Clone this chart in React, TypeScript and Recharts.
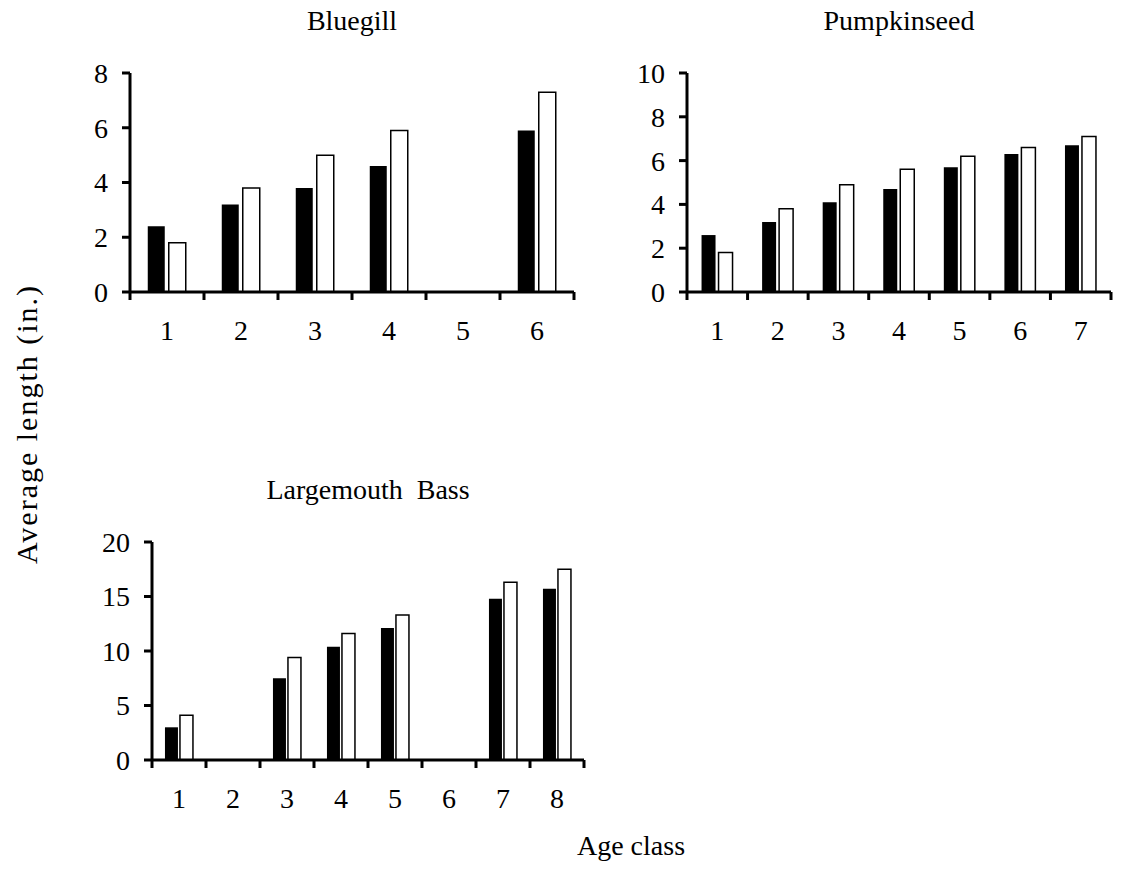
import React from "react";
import { Bar, BarChart, XAxis, YAxis } from "recharts";

const FONT = "'Liberation Serif', 'DejaVu Serif', 'Times New Roman', serif";
const FS = 28;

// Bluegill
const bluegillAges = ["1", "2", "3", "4", "5", "6"];
const bluegillA = [2.4, 3.2, 3.8, 4.6, null, 5.9];
const bluegillB = [1.8, 3.8, 5.0, 5.9, null, 7.3];
const bluegillTicks = [0, 2, 4, 6, 8];

// Pumpkinseed
const pumpkinAges = ["1", "2", "3", "4", "5", "6", "7"];
const pumpkinA = [2.6, 3.2, 4.1, 4.7, 5.7, 6.3, 6.7];
const pumpkinB = [1.8, 3.8, 4.9, 5.6, 6.2, 6.6, 7.1];
const pumpkinTicks = [0, 2, 4, 6, 8, 10];

// Largemouth Bass
const bassAges = ["1", "2", "3", "4", "5", "6", "7", "8"];
const bassA = [3.0, null, 7.5, 10.4, 12.1, null, 14.8, 15.7];
const bassB = [4.1, null, 9.4, 11.6, 13.3, null, 16.3, 17.5];
const bassTicks = [0, 5, 10, 15, 20];

const build = (ages: string[], a: (number | null)[], b: (number | null)[]) =>
  ages.map((age, i) => ({ age, a: a[i], b: b[i] }));

const YW = 60;
const TOP = 24;

// category ticks sit on the band edges, labels in the middle
const AgeTick = (props: any) => {
  const { x, y, index, band, count } = props;
  const left = x - band / 2;
  return (
    <g>
      <line x1={left} y1={y - 8} x2={left} y2={y} stroke="#000" strokeWidth={3} />
      {index === count - 1 && (
        <line x1={left + band} y1={y - 8} x2={left + band} y2={y} stroke="#000" strokeWidth={3} />
      )}
      <text x={x} y={y + 40} textAnchor="middle" style={{ fontFamily: FONT }} fontSize={FS} fill="#000">
        {props.payload.value}
      </text>
    </g>
  );
};

interface PanelProps {
  title: string;
  data: any[];
  ticks: number[];
  x0: number; // y axis position
  y0: number; // plot top
  w: number; // plot width
  h: number; // plot height
  gap: number;
}

const Panel = ({ title, data, ticks, x0, y0, w, h, gap }: PanelProps) => {
  const band = w / data.length;
  return (
    <>
      <div
        style={{
          position: "absolute",
          left: x0,
          width: w,
          top: y0 - 68,
          textAlign: "center",
          fontFamily: FONT,
          fontSize: FS,
          lineHeight: "32px",
          whiteSpace: "pre",
        }}
      >
        {title}
      </div>
      <div style={{ position: "absolute", left: x0 - YW, top: y0 - TOP }}>
        <BarChart
          width={YW + w + 10}
          height={TOP + h + 60}
          data={data}
          margin={{ top: TOP, right: 10, bottom: 0, left: 0 }}
          barCategoryGap="24%"
          barGap={gap}
          style={{ fontFamily: FONT }}
        >
          <XAxis
            dataKey="age"
            height={60}
            axisLine={{ stroke: "#000", strokeWidth: 3 }}
            tickLine={false}
            interval={0}
            tick={<AgeTick band={band} count={data.length} />}
          />
          <YAxis
            width={YW}
            domain={[ticks[0], ticks[ticks.length - 1]]}
            ticks={ticks}
            interval={0}
            axisLine={{ stroke: "#000", strokeWidth: 3 }}
            tickLine={{ stroke: "#000", strokeWidth: 3 }}
            tickSize={8}
            tickMargin={14}
            tick={{ fill: "#000", fontFamily: FONT, fontSize: FS }}
          />
          <Bar dataKey="a" fill="#000" isAnimationActive={false} />
          <Bar dataKey="b" fill="#fff" stroke="#000" strokeWidth={1.5} isAnimationActive={false} />
        </BarChart>
      </div>
    </>
  );
};

export default function App() {
  return (
    <div
      style={{
        position: "absolute",
        left: 0,
        top: 0,
        width: 1127,
        height: 888,
        background: "#fff",
        fontFamily: FONT,
      }}
    >
      <Panel
        title="Bluegill"
        data={build(bluegillAges, bluegillA, bluegillB)}
        ticks={bluegillTicks}
        x0={130}
        y0={73}
        w={444}
        h={219}
        gap={4}
      />
      <Panel
        title="Pumpkinseed"
        data={build(pumpkinAges, pumpkinA, pumpkinB)}
        ticks={pumpkinTicks}
        x0={687}
        y0={73}
        w={424}
        h={219}
        gap={3}
      />
      <Panel
        title="Largemouth  Bass"
        data={build(bassAges, bassA, bassB)}
        ticks={bassTicks}
        x0={152}
        y0={542}
        w={432}
        h={218}
        gap={2}
      />
      <div
        style={{
          position: "absolute",
          left: 27,
          top: 424,
          transform: "translate(-50%, -50%) rotate(-90deg)",
          whiteSpace: "pre",
          fontSize: 30,
          letterSpacing: 2,
          lineHeight: "34px",
        }}
      >
        Average length (in.)
      </div>
      <div
        style={{
          position: "absolute",
          left: 631,
          top: 846,
          transform: "translate(-50%, -50%)",
          fontSize: FS,
          lineHeight: "32px",
        }}
      >
        Age class
      </div>
    </div>
  );
}
